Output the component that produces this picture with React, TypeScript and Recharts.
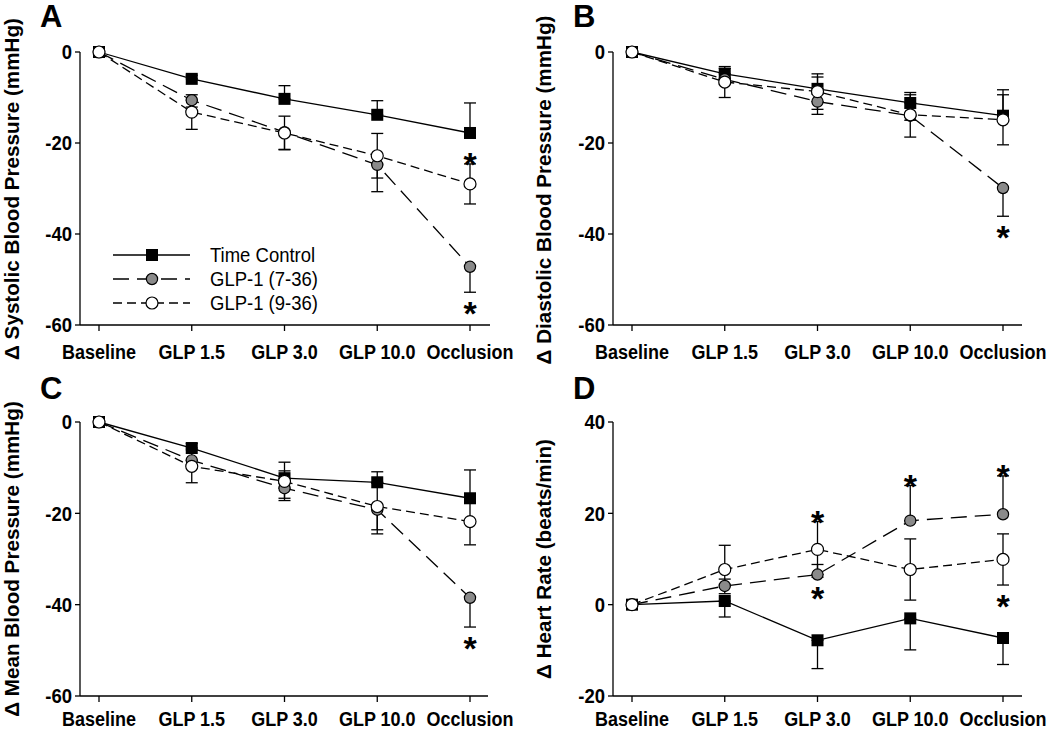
import React from 'react';
import { LineChart, Line, XAxis, YAxis, ErrorBar, Legend } from 'recharts';

const FONT = '"Liberation Sans", Arial, Helvetica, sans-serif';

const categories = ['Baseline', 'GLP 1.5', 'GLP 3.0', 'GLP 10.0', 'Occlusion'];

const bpTicks = [0, -20, -40, -60];
const hrTicks = [40, 20, 0, -20];

// A: systolic
const sbpTimeControl = [0, -5.9, -10.3, -13.8, -17.8];
const sbpTimeControlErr = [0, 0.8, 2.9, 3.1, 6.6];
const sbpGlp736 = [0, -10.6, -17.6, -24.8, -47.2];
const sbpGlp736Err = [0, 1.5, 3.8, 5.9, 5.6];
const sbpGlp936 = [0, -13.2, -17.8, -22.8, -29.0];
const sbpGlp936Err = [0, 3.8, 3.7, 4.9, 4.4];

// B: diastolic
const dbpTimeControl = [0, -4.8, -8.1, -11.2, -14.0];
const dbpTimeControlErr = [0, 1.2, 2.6, 1.8, 5.7];
const dbpGlp736 = [0, -6.0, -10.9, -14.0, -29.9];
const dbpGlp736Err = [0, 1.0, 2.8, 1.0, 6.2];
const dbpGlp936 = [0, -6.6, -8.7, -13.8, -14.9];
const dbpGlp936Err = [0, 3.4, 3.9, 4.9, 5.5];

// C: mean
const mapTimeControl = [0, -5.7, -12.3, -13.2, -16.7];
const mapTimeControlErr = [0, 1.0, 1.6, 2.3, 6.2];
const mapGlp736 = [0, -8.4, -14.5, -19.2, -38.5];
const mapGlp736Err = [0, 1.0, 2.2, 5.3, 6.4];
const mapGlp936 = [0, -9.7, -13.0, -18.5, -21.8];
const mapGlp936Err = [0, 3.6, 4.2, 5.1, 5.1];

// D: heart rate
const hrTimeControl = [0, 0.8, -7.8, -3.0, -7.3];
const hrTimeControlErr = [0, 3.5, 6.2, 6.9, 5.8];
const hrGlp736 = [0, 4.1, 6.6, 18.4, 19.8];
const hrGlp736Err = [0, 1.5, 2.2, 7.7, 8.4];
const hrGlp936 = [0, 7.7, 12.1, 7.7, 9.9];
const hrGlp936Err = [0, 5.3, 6.1, 6.7, 5.6];

type Key = 'tc' | 'g736' | 'g936';
type Side = 'up' | 'down' | 'both';
type Star = { at: string; series: Key; side: 'above' | 'below' };

const sbpStars: Star[] = [
  { at: 'Occlusion', series: 'g936', side: 'above' },
  { at: 'Occlusion', series: 'g736', side: 'below' },
];
const dbpStars: Star[] = [{ at: 'Occlusion', series: 'g736', side: 'below' }];
const mapStars: Star[] = [{ at: 'Occlusion', series: 'g736', side: 'below' }];
const hrStars: Star[] = [
  { at: 'GLP 3.0', series: 'g936', side: 'above' },
  { at: 'GLP 3.0', series: 'g936', side: 'below' },
  { at: 'GLP 10.0', series: 'g736', side: 'above' },
  { at: 'Occlusion', series: 'g736', side: 'above' },
  { at: 'Occlusion', series: 'g936', side: 'below' },
];

const seriesNames: Record<Key, string> = {
  tc: 'Time Control',
  g736: 'GLP-1 (7-36)',
  g936: 'GLP-1 (9-36)',
};
const seriesDash: Record<Key, string | undefined> = {
  tc: undefined,
  g736: '16 8',
  g936: '9 5',
};

interface PanelSpec {
  letter: string;
  left: number;
  top: number;
  values: Record<Key, number[]>;
  errors: Record<Key, number[]>;
  sides: Record<Key, Side>;
  stars: Star[];
  domain: [number, number];
  ticks: number[];
  title: string;
  margin: { top: number; right: number; left: number; bottom: number };
  pad: { left: number; right: number };
  tickMargin: number;
  legend?: boolean;
}

const panels: PanelSpec[] = [
  {
    letter: 'A', left: 0, top: 0,
    values: { tc: sbpTimeControl, g736: sbpGlp736, g936: sbpGlp936 },
    errors: { tc: sbpTimeControlErr, g736: sbpGlp736Err, g936: sbpGlp936Err },
    sides: { tc: 'up', g736: 'down', g936: 'both' },
    stars: sbpStars, domain: [-60, 0], ticks: bpTicks,
    title: 'Δ Systolic Blood Pressure (mmHg)',
    margin: { top: 52, right: 35, left: 20, bottom: 10 },
    pad: { left: 19, right: 20 }, tickMargin: 14, legend: true,
  },
  {
    letter: 'B', left: 525, top: 0,
    values: { tc: dbpTimeControl, g736: dbpGlp736, g936: dbpGlp936 },
    errors: { tc: dbpTimeControlErr, g736: dbpGlp736Err, g936: dbpGlp936Err },
    sides: { tc: 'up', g736: 'down', g936: 'both' },
    stars: dbpStars, domain: [-60, 0], ticks: bpTicks,
    title: 'Δ Diastolic Blood Pressure (mmHg)',
    margin: { top: 52, right: 28, left: 28, bottom: 10 },
    pad: { left: 19, right: 19 }, tickMargin: 14,
  },
  {
    letter: 'C', left: 0, top: 365,
    values: { tc: mapTimeControl, g736: mapGlp736, g936: mapGlp936 },
    errors: { tc: mapTimeControlErr, g736: mapGlp736Err, g936: mapGlp936Err },
    sides: { tc: 'up', g736: 'down', g936: 'both' },
    stars: mapStars, domain: [-60, 0], ticks: bpTicks,
    title: 'Δ Mean Blood Pressure (mmHg)',
    margin: { top: 57, right: 37, left: 20, bottom: 4 },
    pad: { left: 19, right: 18 }, tickMargin: 10,
  },
  {
    letter: 'D', left: 525, top: 365,
    values: { tc: hrTimeControl, g736: hrGlp736, g936: hrGlp936 },
    errors: { tc: hrTimeControlErr, g736: hrGlp736Err, g936: hrGlp936Err },
    sides: { tc: 'down', g736: 'up', g936: 'both' },
    stars: hrStars, domain: [-20, 40], ticks: hrTicks,
    title: 'Δ Heart Rate (beats/min)',
    margin: { top: 57, right: 28, left: 28, bottom: 4 },
    pad: { left: 19, right: 19 }, tickMargin: 10,
  },
];

const keys: Key[] = ['tc', 'g736', 'g936'];

const buildRows = (p: PanelSpec) =>
  categories.map((cat, i) => {
    const row: any = { cat };
    keys.forEach((k) => {
      row[k] = p.values[k][i];
      const e = p.errors[k][i];
      const side = p.sides[k];
      row[k + 'Err'] = e ? [side === 'up' ? 0 : e, side === 'down' ? 0 : e] : null;
    });
    p.stars
      .filter((s) => s.at === cat)
      .forEach((s) => {
        const v = p.values[s.series][i];
        const e = p.errors[s.series][i];
        const side = p.sides[s.series];
        if (s.side === 'above') row.starAbove = v + (side !== 'down' ? e : 0);
        else row.starBelow = v - (side !== 'up' ? e : 0);
      });
    return row;
  });

const Marker = ({ kind, cx, cy }: { kind: Key; cx: number; cy: number }) => {
  if (kind === 'tc') return <rect x={cx - 6} y={cy - 6} width={12} height={12} fill="#000" />;
  if (kind === 'g736') return <circle cx={cx} cy={cy} r={5.6} fill="#8a8a8a" stroke="#000" strokeWidth={1.2} />;
  return <circle cx={cx} cy={cy} r={6} fill="#fff" stroke="#000" strokeWidth={1.2} />;
};

const makeDot = (kind: Key) => (props: any) => {
  const { cx, cy, index } = props;
  if (cx == null || cy == null) return <g key={`d-${kind}-${index}`} />;
  return <Marker key={`d-${kind}-${index}`} kind={kind} cx={cx} cy={cy} />;
};

const makeStar = (key: string, dy: number) => (props: any) => {
  const { cx, cy, index, payload } = props;
  if (payload == null || payload[key] == null || cy == null || Number.isNaN(cy)) return <g key={`s-${key}-${index}`} />;
  return (
    <text key={`s-${key}-${index}`} x={cx} y={cy + dy} textAnchor="middle" fontFamily={FONT} fontWeight="bold" fontSize={34} fill="#000">
      *
    </text>
  );
};

const XTick = (props: any) => {
  const { x, y, payload } = props;
  return (
    <text transform={`translate(${x},${y}) scale(1,1.1)`} textAnchor="middle" dy="0.72em" fontFamily={FONT} fontWeight="bold" fontSize={18} fill="#000">
      {payload.value}
    </text>
  );
};

const YTick = (props: any) => {
  const { x, y, payload } = props;
  return (
    <text transform={`translate(${x},${y}) scale(1,1.1)`} textAnchor="end" dy="0.36em" fontFamily={FONT} fontWeight="bold" fontSize={18.5} fill="#000">
      {payload.value}
    </text>
  );
};

const renderLegend = (props: any) => {
  const items = keys
    .map((k) => (props.payload || []).find((it: any) => it.dataKey === k))
    .filter(Boolean);
  return (
    <svg width={240} height={74}>
      {items.map((it: any, i: number) => {
        const y = 12 + i * 24;
        const k = it.dataKey as Key;
        return (
          <g key={k}>
            <line x1={8} x2={85} y1={y} y2={y} stroke="#000" strokeWidth={1.3} strokeDasharray={seriesDash[k]} />
            <Marker kind={k} cx={47} cy={y} />
            <text transform={`translate(105,${y}) scale(1,1.1)`} dy="0.36em" fontFamily={FONT} fontSize={18.5} fill="#000">
              {it.value}
            </text>
          </g>
        );
      })}
    </svg>
  );
};

const Panel = ({ p }: { p: PanelSpec }) => {
  const rows = buildRows(p);
  return (
    <div style={{ position: 'absolute', left: p.left, top: p.top }}>
      <LineChart width={525} height={365} data={rows} margin={p.margin}>
        <XAxis
          dataKey="cat"
          padding={p.pad}
          stroke="#000"
          strokeWidth={1.3}
          tickSize={6}
          tickMargin={p.tickMargin}
          tick={<XTick />}
          interval={0}
        />
        <YAxis
          width={60}
          domain={p.domain}
          ticks={p.ticks}
          stroke="#000"
          strokeWidth={1.3}
          tickSize={5}
          tickMargin={3}
          tick={<YTick />}
          interval={0}
        />
        {keys.map((k) => (
          <Line
            key={k}
            dataKey={k}
            name={seriesNames[k]}
            stroke="#000"
            strokeWidth={1.3}
            strokeDasharray={seriesDash[k]}
            dot={makeDot(k)}
            activeDot={false}
            isAnimationActive={false}
          >
            <ErrorBar dataKey={k + 'Err'} width={6} stroke="#000" strokeWidth={1.3} direction="y" />
          </Line>
        ))}
        <Line dataKey="starAbove" stroke="none" dot={makeStar('starAbove', 12.5)} activeDot={false} legendType="none" isAnimationActive={false} />
        <Line dataKey="starBelow" stroke="none" dot={makeStar('starBelow', 32.5)} activeDot={false} legendType="none" isAnimationActive={false} />
        {p.legend && (
          <Legend
            layout="vertical"
            align="center"
            verticalAlign="middle"
            content={renderLegend}
            wrapperStyle={{ left: 105, top: 243, width: 240 }}
          />
        )}
      </LineChart>
    </div>
  );
};

// rotated axis titles: x position and plot centre
const titlePos = [
  { x: 12, y: 189 },
  { x: 544, y: 190 },
  { x: 12, y: 559 },
  { x: 544, y: 559 },
];
const letterPos = [
  { x: 40, y: 27 },
  { x: 573, y: 27 },
  { x: 40, y: 399 },
  { x: 573, y: 399 },
];

export default function App() {
  return (
    <div style={{ position: 'absolute', left: 0, top: 0, width: 1050, height: 730, background: '#fff', overflow: 'hidden' }}>
      {panels.map((p) => (
        <Panel key={p.letter} p={p} />
      ))}
      <svg width={1050} height={730} style={{ position: 'absolute', left: 0, top: 0, pointerEvents: 'none' }}>
        {panels.map((p, i) => (
          <g key={p.letter}>
            <text x={letterPos[i].x} y={letterPos[i].y} fontFamily={FONT} fontWeight="bold" fontSize={31} fill="#000">
              {p.letter}
            </text>
            <text
              transform={`translate(${titlePos[i].x},${titlePos[i].y}) rotate(-90) scale(1.06,1)`}
              textAnchor="middle"
              dy="0.36em"
              fontFamily={FONT}
              fontWeight="bold"
              fontSize={19.5}
              fill="#000"
            >
              {p.title}
            </text>
          </g>
        ))}
      </svg>
    </div>
  );
}
